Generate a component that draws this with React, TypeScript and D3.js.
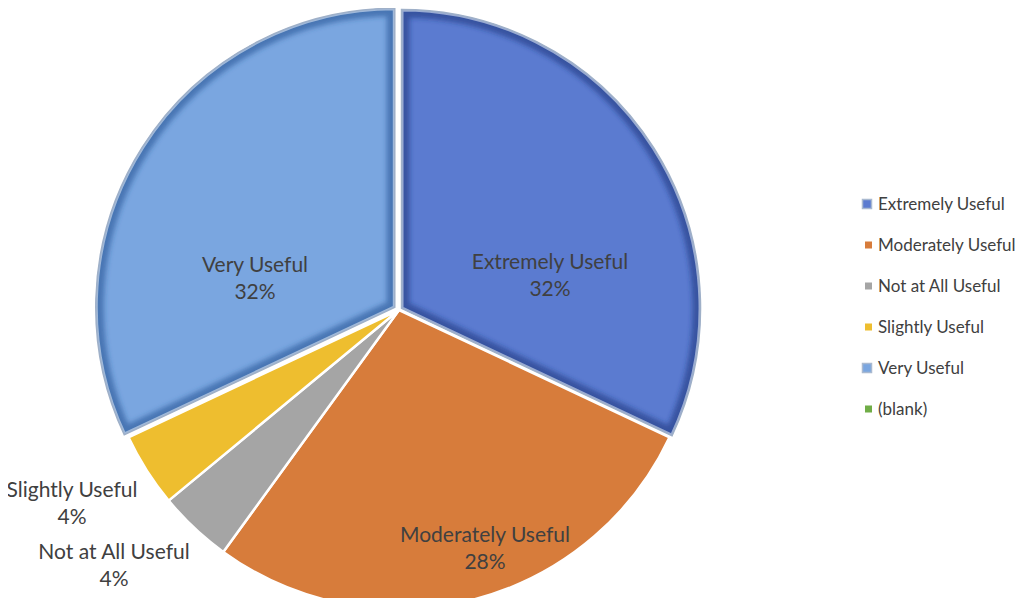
import React from "react";
import * as d3 from "d3";

const categories = ["Extremely Useful", "Moderately Useful", "Not at All Useful", "Slightly Useful", "Very Useful", "(blank)"];
const counts = [8, 7, 1, 1, 8, 0];
const colors = ["#5B7BD0", "#D77C3B", "#A5A5A5", "#EEBE2F", "#7AA6E0", "#70AD47"];
const explode = [3, 0, 0, 0, 5, 0];
const beveled = [true, false, false, false, true, false];
const bevelDark = ["#1E3580", "", "", "", "#2A5596", ""];

const W = 1028, H = 606;
const cx = 399, cy = 310, R = 299;

export default function App() {
  const data = categories.map((c, i) => ({ c, v: counts[i], i }));
  const pie = d3.pie<any>().sort(null).value((d) => d.v).startAngle(0).endAngle(2 * Math.PI);
  const arcs = pie(data);
  const arc = d3.arc<any>().innerRadius(0).outerRadius(R);
  const total = d3.sum(counts);
  const pct = d3.format(".0%");
  const legendY = d3.scalePoint<number>().domain(d3.range(categories.length)).range([204, 409]);

  const off = (a: any, k: number) => {
    const m = (a.startAngle + a.endAngle) / 2;
    return [Math.sin(m) * k, -Math.cos(m) * k];
  };

  const labelPos: Record<number, [number, number]> = {
    0: [550, 262],
    1: [485, 535],
    2: [114, 552],
    3: [72, 490],
    4: [255, 265],
  };

  return (
    <div style={{ margin: -8, width: W, height: H, background: "#fff" }}>
      <svg width={W} height={H} style={{ display: "block", fontFamily: "Lato, sans-serif" }}>
        <defs>
          {arcs.map((a, i) => (
            <clipPath id={"clip" + i} key={i}>
              <path d={arc(a) || ""} />
            </clipPath>
          ))}
          <filter id="blur" x="-10%" y="-10%" width="120%" height="120%">
            <feGaussianBlur stdDeviation="2.5" />
          </filter>
        </defs>
        {arcs.filter((a) => !beveled[a.index] && a.value > 0).map((a) => {
          const [dx, dy] = off(a, explode[a.index]);
          return (
            <path key={a.index} d={arc(a) || ""} transform={`translate(${cx + dx},${cy + dy})`}
              fill={colors[a.index]} stroke="#fff" strokeWidth={2.5} strokeLinejoin="round" />
          );
        })}
        {arcs.filter((a) => beveled[a.index] && a.value > 0).map((a) => {
          const [dx, dy] = off(a, explode[a.index]);
          const d = arc(a) || "";
          return (
            <g key={a.index} transform={`translate(${cx + dx},${cy + dy})`}>
              <path d={d} fill={colors[a.index]} />
              <g clipPath={`url(#clip${a.index})`}>
                <path d={d} fill="none" stroke={bevelDark[a.index]} strokeOpacity={0.6} strokeWidth={16} filter="url(#blur)" />
                <path d={d} fill="none" stroke="#DCE6F4" strokeOpacity={0.6} strokeWidth={4} />
              </g>
              <path d={d} fill="none" stroke="#9FB0C8" strokeWidth={1.5} strokeLinejoin="miter" />
            </g>
          );
        })}
        {arcs.filter((a) => a.value > 0).map((a) => {
          const [x, y] = labelPos[a.index];
          return (
            <text key={a.index} x={x} y={y} textAnchor="middle" fontSize={21} fill="#404040">
              <tspan x={x} dy={7}>{a.data.c}</tspan>
              <tspan x={x} dy={27}>{pct(a.value / total)}</tspan>
            </text>
          );
        })}
        {categories.map((c, i) => {
          const y = legendY(i)!;
          return (
            <g key={c}>
              {beveled[i] ? (
                <rect x={862.5} y={y - 4.5} width={9} height={9} fill={colors[i]} stroke="#A9B9D0" strokeWidth={1.5} />
              ) : (
                <rect x={865} y={y - 3.5} width={7} height={7} fill={colors[i]} />
              )}
              <text x={878} y={y + 6} fontSize={17} fill="#404040">{c}</text>
            </g>
          );
        })}
      </svg>
    </div>
  );
}
